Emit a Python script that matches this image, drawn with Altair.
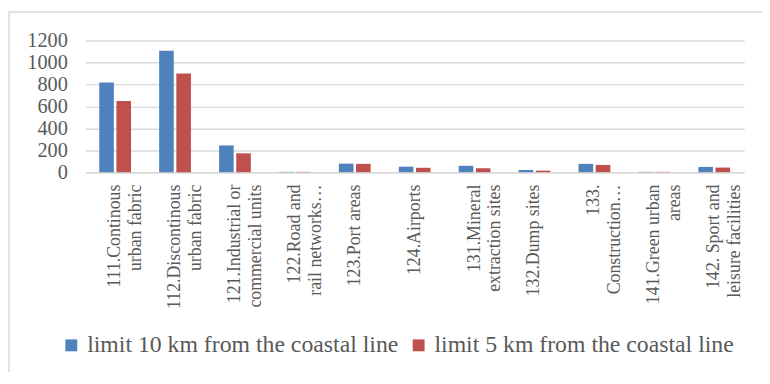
import altair as alt
import pandas as pd

categories = [
    "111.Continous\nurban fabric",
    "112.Discontinous\nurban fabric",
    "121.Industrial or\ncommercial units",
    "122.Road and\nrail networks…",
    "123.Port areas",
    "124.Airports",
    "131.Mineral\nextraction sites",
    "132.Dump sites",
    "133.\nConstruction…",
    "141.Green urban\nareas",
    "142. Sport and\nleisure facilities",
]
series = ["limit 10 km from the coastal line", "limit 5 km from the coastal line"]
values_10km = [818, 1108, 244, 3, 78, 50, 58, 20, 76, 3, 48]
values_5km = [650, 900, 172, 3, 76, 40, 36, 14, 66, 3, 42]
colors = ["#4F81BD", "#C0504D"]
y_ticks = [0, 200, 400, 600, 800, 1000, 1200]

rows = []
for c, a, b in zip(categories, values_10km, values_5km):
    rows.append({"cat": c, "series": series[0], "value": a})
    rows.append({"cat": c, "series": series[1], "value": b})
df = pd.DataFrame(rows)

font = "'Liberation Serif', 'Times New Roman', serif"
txt = "#595959"
grid = "#D9D9D9"

bars = alt.Chart(df).mark_bar().encode(
    x=alt.X(
        "cat:N",
        sort=categories,
        scale=alt.Scale(paddingInner=0.47, paddingOuter=0.235),
        axis=alt.Axis(
            title=None,
            labelAngle=-90,
            labelExpr="split(datum.label, '\\n')",
            labelFont=font,
            labelFontSize=18,
            labelLineHeight=21,
            labelColor=txt,
            labelPadding=12,
            labelLimit=300,
            ticks=False,
            domainColor=grid,
            domainWidth=1.5,
            grid=False,
        ),
    ),
    xOffset=alt.XOffset("series:N", sort=series, scale=alt.Scale(paddingInner=0.15)),
    y=alt.Y(
        "value:Q",
        scale=alt.Scale(domain=[0, 1200]),
        axis=alt.Axis(
            title=None,
            values=y_ticks,
            format="d",
            labelFont=font,
            labelFontSize=20.5,
            labelColor=txt,
            labelPadding=18,
            ticks=False,
            domain=False,
            gridColor=grid,
            gridWidth=1.5,
        ),
    ),
    color=alt.Color(
        "series:N",
        sort=series,
        scale=alt.Scale(domain=series, range=colors),
        legend=alt.Legend(
            title=None,
            orient="none",
            legendX=-26,
            legendY=296,
            direction="horizontal",
            columns=2,
            columnPadding=8,
            symbolType="square",
            symbolSize=144,
            symbolStrokeWidth=0,
            labelFont=font,
            labelFontSize=24,
            labelColor=txt,
            labelOffset=4,
            labelLimit=400,
            padding=0,
        ),
    ),
)

frame = alt.Chart(pd.DataFrame({"f": [0]})).mark_rect(
    fill=None, stroke=grid, strokeWidth=1.5
).encode(
    x=alt.value(-77), x2=alt.value(700), y=alt.value(-29), y2=alt.value(400)
)

chart = alt.layer(frame, bars).properties(
    width=666,
    height=133,
    autosize=alt.AutoSizeParams(type="none"),
    padding={"left": 78, "top": 31, "right": 18, "bottom": 200},
    background="white",
).configure_view(stroke=None)

chart.save("out.html", embed_options={"renderer": "svg", "actions": False})
